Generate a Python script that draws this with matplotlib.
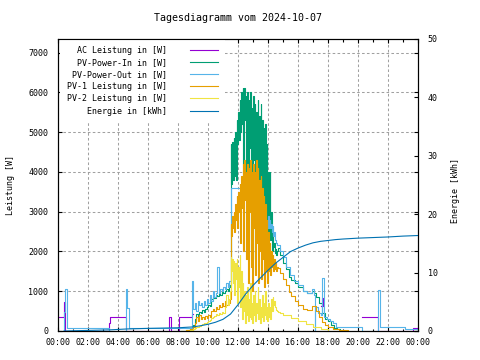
import numpy as np
import matplotlib
matplotlib.use('Agg')
import matplotlib.pyplot as plt
from matplotlib.ticker import MultipleLocator

plt.rcParams['font.family'] = ['DejaVu Sans Mono', 'DejaVu Sans']
plt.rcParams['font.size'] = 6

nan = np.nan

# Zeitachse in Stunden (0 .. 24)
# AC Leistung
ac_t = [0.0, 0.4, 0.47, 3.4, 3.45, 4.5, 7.4, 7.55, 8.07, 8.9, 9.0,
        17.56, 17.6, 17.64, 17.66, 20.27, 21.3, 23.65, 24.0]
ac_w = [360, 720, 0, 200, 360, 0, 360, 0, 360, 420, nan,
        640, 830, 640, nan, 340, 0, 80, 80]

# gemeinsames Raster fuer die Mittagszeit
mid_t = np.round(np.arange(11.45, 14.651, 0.05), 2)

# PV-Power-In
in_am_t = [8.2, 8.5, 8.8, 9.0, 9.1, 9.2, 9.3, 9.4, 9.5, 9.6, 9.7, 9.8, 9.9, 10.0,
           10.1, 10.2, 10.3, 10.4, 10.5, 10.6, 10.7, 10.8, 10.9, 11.0, 11.1, 11.2, 11.3, 11.4]
in_am_w = [10, 30, 80, 150, 300, 420, 380, 480, 450, 520, 480, 550, 600, 650,
           620, 800, 850, 820, 900, 880, 950, 900, 980, 950, 1000, 1050, 1000, 1100]
in_mid_w = [1150, 4700, 3700, 4750, 3800, 4850, 3900, 5000, 3800, 5300,
            4700, 5500, 4800, 5800, 5000, 6000, 5200, 6100, 4200, 6100,
            5300, 5900, 3800, 6000, 2000, 5800, 4600, 6000, 3200, 5600,
            1800, 5900, 4300, 5700, 2600, 5500, 3700, 5800, 2300, 5400,
            3500, 5700, 2400, 5300, 3000, 5100, 2200, 5200, 2800, 4700,
            2000, 4000, 2500, 4000, 2300, 3000, 2000, 2500, 2100, 2200,
            1950, 2050, 1900, 2000, 2075]
in_pm_t = [14.8, 15.0, 15.2, 15.4, 15.55, 15.8, 16.0, 16.3, 16.6, 16.9, 17.05,
           17.2, 17.4, 17.6, 17.8, 18.0, 18.2, 18.4, 18.6, 18.8]
in_pm_w = [1900, 1700, 1550, 1350, 1280, 1200, 1100, 1000, 950, 1000, 950,
           850, 700, 450, 300, 250, 150, 80, 40, 0]

# PV-Power-Out
out_am_t = [0.0, 0.42, 0.45, 0.62, 3.4, 4.5, 4.6, 4.7, 8.9, 8.95, 9.0, 9.1, 9.2,
            9.3, 9.4, 9.5, 9.6, 9.7, 9.8, 9.9, 10.0, 10.1, 10.2, 10.3, 10.4, 10.5,
            10.6, 10.7, 10.8, 10.9, 11.0, 11.1, 11.2, 11.3, 11.4]
out_am_w = [0, 480, 1050, 70, 0, 1050, 580, 70, 90, 1250, 550, 700, 500,
            750, 650, 700, 600, 750, 650, 800, 700, 900, 750, 1000, 850, 950,
            1600, 950, 1050, 1000, 1100, 1050, 1200, 1100, 1250]
out_mid_w = [1250, 3600, 3600, 3600, 3600, 3600, 3600, 3600, 3600, 3600,
             3600, 3600, 3600, 3600, 3600, 3600, 3600, 3600, 3600, 3600,
             3600, 3600, 3600, 3600, 3600, 3600, 3600, 3600, 3600, 3600,
             3600, 3600, 3500, 3400, 3300, 3300, 3000, 2900, 2800, 2900,
             3000, 2900, 3000, 2800, 2900, 3000, 2700, 2900, 2700, 2800,
             2600, 2900, 2600, 2800, 2600, 2700, 2500, 2650, 2400, 2500,
             2300, 2250, 2200, 2150, 2150]
out_pm_t = [14.8, 15.0, 15.2, 15.45, 15.7, 16.0, 16.3, 16.6, 16.9, 17.05, 17.1,
            17.15, 17.3, 17.55, 17.62, 17.7, 17.9, 18.1, 18.3, 18.55, 20.27,
            21.3, 21.45, 23.1, 24.0]
out_pm_w = [2000, 1850, 1600, 1400, 1250, 1150, 1000, 950, 1050, 900, 0,
            600, 450, 400, 1330, 350, 300, 250, 200, 90, 0,
            1030, 90, 60, 60]

# PV-1 Leistung
pv1_am_w = [5, 20, 50, 100, 200, 350, 250, 400, 300, 350, 300, 380, 320, 400,
            350, 500, 550, 500, 600, 550, 650, 600, 700, 620, 750, 650, 780, 700]
pv1_mid_w = [800, 2700, 2400, 2900, 2600, 3000, 2500, 3200, 2800, 3400,
             2600, 3500, 3000, 3700, 2200, 3900, 3100, 4200, 2000, 4300,
             3300, 4000, 1800, 4200, 1200, 4100, 3000, 4300, 1600, 4000,
             1000, 4200, 2600, 4000, 1400, 4300, 2200, 4100, 1200, 3800,
             2000, 3900, 1300, 3600, 1800, 3400, 1100, 3200, 1500, 2800,
             1200, 2500, 1500, 2200, 1400, 2000, 1600, 1900, 1500, 1800,
             1550, 1700, 1500, 1600, 1580]
pv1_pm_t = [14.8, 15.0, 15.2, 15.4, 15.55, 15.8, 16.0, 16.3, 16.6, 16.9, 17.05,
            17.2, 17.4, 17.6, 17.8, 18.0, 18.3, 18.7, 19.0, 19.3]
pv1_pm_w = [1450, 1300, 1150, 980, 880, 750, 660, 560, 540, 620, 640,
            500, 350, 235, 160, 110, 60, 30, 20, 0]

# PV-2 Leistung
pv2_am_w = [0, 5, 20, 50, 70, 90, 100, 120, 150, 170, 190, 210, 230, 260,
            280, 320, 350, 380, 420, 400, 460, 430, 480, 450, 600, 900, 650, 800]
pv2_mid_w = [1000, 1850, 1500, 1800, 1200, 1750, 900, 1700, 1300, 1800,
             700, 1600, 1100, 1900, 600, 1500, 300, 1200, 500, 1000,
             200, 900, 400, 1100, 250, 800, 350, 1200, 300, 700,
             200, 900, 400, 1000, 250, 700, 450, 1100, 300, 800,
             200, 600, 350, 900, 250, 700, 400, 1000, 300, 600,
             250, 700, 350, 600, 300, 800, 500, 850, 650, 750,
             600, 550, 520, 500, 470]
pv2_pm_t = [14.8, 15.0, 15.5, 16.0, 16.5, 17.0, 17.5, 18.0, 18.3]
pv2_pm_w = [450, 400, 330, 250, 170, 90, 40, 10, 0]

# Energie
en_t = [0.4, 2.0, 3.5, 4.6, 6.0, 8.0, 9.0, 9.5, 10.0, 10.5, 11.0, 11.5, 12.0, 12.5,
        13.0, 13.5, 14.0, 14.5, 15.0, 15.5, 16.0, 16.5, 17.0, 17.5, 18.0, 18.5,
        19.0, 20.0, 21.0, 22.0, 23.0, 24.0]
en_kwh = [0.0, 0.1, 0.2, 0.35, 0.45, 0.55, 0.7, 0.9, 1.15, 1.5, 2.0, 2.9, 4.5, 6.3,
          7.8, 9.1, 10.4, 11.6, 12.6, 13.6, 14.2, 14.7, 15.1, 15.35, 15.5, 15.65,
          15.75, 15.9, 16.0, 16.1, 16.25, 16.35]

hours = list(range(0, 25, 2))
hour_labels = ['%02d:00' % (h % 24) for h in hours]


def join(*parts):
    return np.concatenate([np.asarray(p, dtype=float) for p in parts])


fig = plt.figure(figsize=(4.8, 3.6), dpi=100)
ax = fig.add_axes([58 / 480, 29 / 360, 360 / 480, 292 / 360])
ax2 = ax.twinx()

lw = 0.8
l_ac, = ax.plot(ac_t, ac_w, color='#9400d3', lw=lw, drawstyle='steps-post')
l_in, = ax.plot(join(in_am_t, mid_t, in_pm_t), join(in_am_w, in_mid_w, in_pm_w),
                color='#009e73', lw=lw, drawstyle='steps-post')
l_out, = ax.plot(join(out_am_t, mid_t, out_pm_t), join(out_am_w, out_mid_w, out_pm_w),
                 color='#56b4e9', lw=lw, drawstyle='steps-post')
l_pv1, = ax.plot(join(in_am_t, mid_t, pv1_pm_t), join(pv1_am_w, pv1_mid_w, pv1_pm_w),
                 color='#e69f00', lw=lw, drawstyle='steps-post')
l_pv2, = ax.plot(join(in_am_t, mid_t, pv2_pm_t), join(pv2_am_w, pv2_mid_w, pv2_pm_w),
                 color='#f0e442', lw=lw, drawstyle='steps-post')
l_en, = ax2.plot(en_t, en_kwh, color='#0072b2', lw=lw)

ax.set_xlim(0, 24)
ax.set_ylim(0, 7340)
ax2.set_ylim(0, 50)

ax.set_xticks(hours)
ax.set_xticklabels(hour_labels)
ax.xaxis.set_minor_locator(MultipleLocator(1))
ax.yaxis.set_major_locator(MultipleLocator(1000))
ax2.yaxis.set_major_locator(MultipleLocator(10))

ax.tick_params(axis='x', which='both', direction='in', top=True, bottom=True, pad=5)
ax.tick_params(axis='x', which='major', length=3, width=0.8)
ax.tick_params(axis='x', which='minor', length=1.8, width=0.8)
ax.tick_params(axis='y', direction='in', left=True, right=True, length=3, width=0.8, pad=7)
ax2.tick_params(axis='y', direction='in', right=True, left=False, length=3, width=0.8, pad=7)

ax.grid(True, which='major', color='#a0a0a0', linestyle=(0, (2.5, 2.2)), linewidth=0.75)

for a in (ax, ax2):
    for s in a.spines.values():
        s.set_linewidth(0.8)

ax.set_title('Tagesdiagramm vom 2024-10-07', pad=13)
ax.set_ylabel('Leistung [W]')
ax.yaxis.set_label_coords(-0.12, 0.5)
ax2.set_ylabel('Energie [kWh]')
ax2.yaxis.set_label_coords(1.092, 0.48)

handles = [l_ac, l_in, l_out, l_pv1, l_pv2, l_en]
labels = ['AC Leistung in [W]', 'PV-Power-In in [W]', 'PV-Power-Out in [W]',
          'PV-1 Leistung in [W]', 'PV-2 Leistung in [W]', 'Energie in [kWh]']
leg = ax.legend(handles, labels, loc='upper right', bbox_to_anchor=((225 - 58) / 360, 1.0),
                borderaxespad=0, markerfirst=False, frameon=True, fancybox=False,
                framealpha=1, edgecolor='none', facecolor='white',
                handlelength=3.4, handletextpad=2.8, labelspacing=0.38, borderpad=0.8)
leg.set_zorder(5)

fig.savefig('out.png', dpi=100)
